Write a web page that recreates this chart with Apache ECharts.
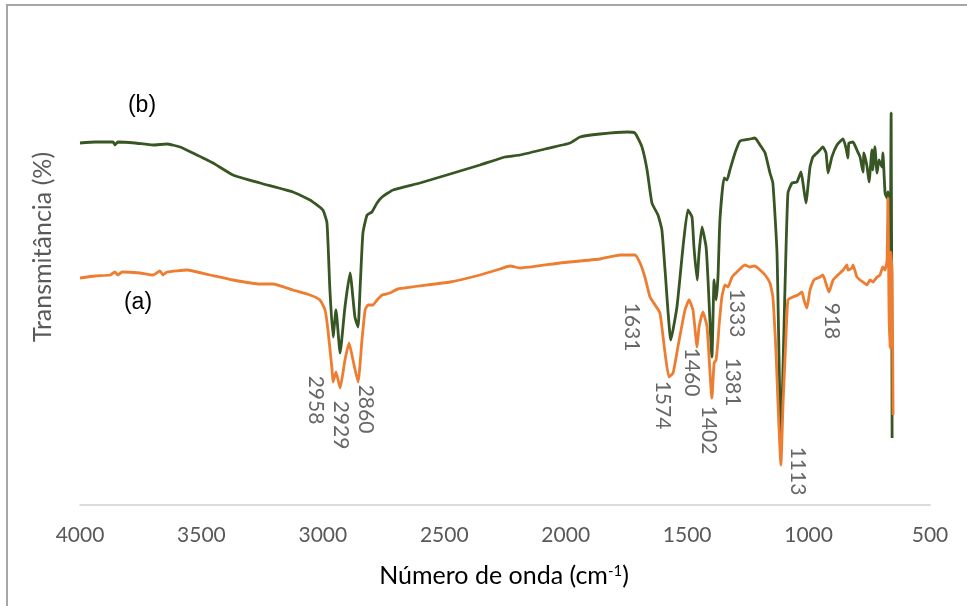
<!DOCTYPE html>
<html>
<head>
<meta charset="utf-8">
<script src="https://cdn.jsdelivr.net/npm/echarts@6/dist/echarts.min.js"></script>
<style>
  html, body { margin: 0; padding: 0; background: #fff; }
  #chart { width: 967px; height: 606px; }
</style>
</head>
<body>
<div id="chart"></div>
<script>
// eixo x: número de onda (cm-1), de 4000 a 500
const xTicks = [4000, 3500, 3000, 2500, 2000, 1500, 1000, 500]

// espectro (b) - [número de onda, transmitância relativa]
const spectrumB = [
  [4000, 90.5], [3938, 90.75], [3864, 90.75], [3856, 90], [3844, 90.75], [3774, 90.5],
  [3699, 90], [3642, 90.25], [3588, 89.5], [3535, 88], [3452, 85.5], [3370, 82.5],
  [3259, 80.5], [3123, 78.25], [3053, 76.25], [3041, 75.75], [3000, 73.75], [2983, 70.5],
  [2971, 53.75], [2958, 42], [2946, 48.75], [2929, 38], [2909, 49.5], [2888, 58],
  [2868, 47], [2855, 44.5], [2847, 53.75], [2835, 68], [2818, 72.5], [2798, 73.25],
  [2777, 75.5], [2756, 77], [2711, 78.75], [2600, 80.5], [2476, 82.75], [2353, 85],
  [2250, 87], [2188, 87.5], [2085, 89], [1982, 90.5], [1941, 92], [1859, 92.75],
  [1748, 93.25], [1715, 93], [1686, 89.5], [1665, 83.75], [1645, 75.5], [1620, 72.5],
  [1604, 68.75], [1591, 58.75], [1567, 41.25], [1542, 49.5], [1517, 64.5], [1497, 73.75],
  [1480, 72], [1472, 64.5], [1459, 56.25], [1451, 63], [1439, 69.5], [1422, 64.5],
  [1414, 56.25], [1398, 37], [1389, 56.25], [1381, 51.25], [1373, 57], [1365, 71.25],
  [1348, 81.75], [1336, 81.25], [1324, 83.75], [1303, 88], [1282, 91], [1241, 91.5],
  [1221, 91.75], [1200, 90], [1179, 88], [1159, 83], [1147, 80.5], [1130, 63],
  [1114, 16.25], [1097, 54.5], [1085, 78], [1068, 80.5], [1048, 80.75], [1031, 83.25],
  [1023, 80.5], [1011, 75.5], [994, 84.5], [982, 87], [961, 88.25], [941, 89.5],
  [928, 88], [920, 83], [904, 87], [883, 90], [858, 91.5], [846, 89.25],
  [838, 86.75], [834, 90.5], [817, 90.75], [801, 88.75], [788, 87], [776, 83.25],
  [772, 88], [759, 84.5], [751, 80.75], [739, 88.75], [735, 83.75], [727, 89.5],
  [718, 83], [710, 86.25], [698, 84.5], [694, 88], [685, 78], [677, 76.75],
  [673, 78.25], [669, 63.75], [665, 53], [660, 98], [656, 16.75]
]

// espectro (a)
const spectrumA = [
  [4000, 56.75], [3938, 57.25], [3876, 57.5], [3856, 58.25], [3844, 57.5], [3827, 58.25],
  [3753, 58], [3699, 57.5], [3671, 58.5], [3658, 57.5], [3642, 58.25], [3559, 58.75],
  [3465, 57.5], [3370, 56.25], [3259, 55.25], [3205, 55.25], [3123, 53.75], [3053, 52.5],
  [3012, 51.25], [2991, 48.75], [2979, 43.75], [2962, 33.75], [2958, 30.75], [2946, 33.25],
  [2929, 29.25], [2909, 36.25], [2892, 40.5], [2876, 36.25], [2855, 30.75], [2839, 41.25],
  [2826, 48.75], [2814, 50], [2794, 50], [2777, 51.25], [2756, 52.5], [2724, 53],
  [2691, 54], [2476, 55.75], [2353, 57.5], [2271, 59], [2229, 59.75], [2188, 59.25],
  [2024, 60.5], [1859, 61.5], [1776, 62.5], [1715, 62.5], [1694, 60.5], [1674, 57],
  [1653, 52], [1632, 50], [1612, 48], [1591, 38], [1575, 32], [1558, 33],
  [1538, 39.5], [1509, 48.75], [1492, 51.25], [1476, 48.75], [1459, 39.5], [1451, 44.5],
  [1435, 48.25], [1418, 44.5], [1398, 26.75], [1389, 35.5], [1381, 36.25], [1373, 41],
  [1369, 44.5], [1357, 52], [1344, 55], [1332, 54.5], [1315, 57], [1295, 58.25],
  [1262, 60], [1241, 59.5], [1221, 59.75], [1200, 58.75], [1179, 57.5], [1159, 55.5],
  [1147, 52], [1134, 38], [1126, 25.5], [1114, 10], [1105, 25.5], [1093, 42],
  [1085, 51.25], [1064, 52], [1044, 52.5], [1027, 53.25], [1019, 51.25], [1007, 49.25],
  [994, 53.75], [978, 56.25], [953, 57], [941, 57.5], [924, 54.5], [916, 53.25],
  [899, 56.25], [879, 57.5], [858, 58.75], [842, 60], [838, 58.75], [821, 59.25],
  [817, 60], [801, 57], [788, 56.25], [776, 55.75], [759, 55], [747, 56.25],
  [735, 55.75], [718, 57], [706, 57.5], [694, 59.5], [685, 58.75], [677, 61.25],
  [673, 76.75], [669, 49.5], [665, 39.25], [661, 63.25], [656, 58], [652, 22.5]
]

// rótulos dos picos
const peakLabels = ['2958', '2929', '2860', '1631', '1574', '1460', '1402', '1333', '1381', '1113', '918']
// onde cada rótulo fica (número de onda / nível)
const labelWave = [3028, 2925, 2822, 1727, 1599, 1480, 1410, 1295, 1311, 1044, 904]
const labelLevel = [26.25, 20, 24, 44.5, 25, 33.25, 18.75, 48, 30.75, 8.5, 46]

const chart = echarts.init(document.getElementById('chart'))

const font = 'Lato'
const textColor = '#595959'

const option = {
  animation: false,
  grid: { left: 80, right: 37, top: 25, bottom: 101 },
  xAxis: {
    type: 'value',
    inverse: true,
    min: Math.min(...xTicks),
    max: Math.max(...xTicks),
    interval: xTicks[0] - xTicks[1],
    axisLine: { lineStyle: { color: '#d0d0d0', width: 1.5 } },
    axisTick: { show: false },
    splitLine: { show: false },
    axisLabel: {
      color: textColor,
      fontSize: 21,
      fontFamily: font,
      margin: 20,
      formatter: (v) => String(v),
    },
  },
  yAxis: { type: 'value', min: 0, max: 120, show: false },
  series: [
    {
      name: '(b)',
      type: 'line',
      data: spectrumB,
      showSymbol: false,
      smooth: 0.15,
      lineStyle: { color: '#375623', width: 2.8 },
      z: 2,
    },
    {
      name: '(a)',
      type: 'line',
      data: spectrumA,
      showSymbol: false,
      smooth: 0.15,
      lineStyle: { color: '#ED7D31', width: 2.8 },
      z: 3,
    },
    {
      // rótulos rotacionados
      type: 'scatter',
      silent: true,
      symbolSize: 1,
      itemStyle: { color: 'transparent' },
      data: peakLabels.map((t, i) => ({ value: [labelWave[i], labelLevel[i]], name: t })),
      label: {
        show: true,
        position: 'inside',
        rotate: -90,
        formatter: (p) => p.name,
        color: '#404040',
        fontSize: 21,
        fontFamily: font,
      },
      z: 5,
    },
  ],
  graphic: [
    {
      type: 'rect',
      silent: true,
      shape: { x: 7, y: 5, width: 1200, height: 900 },
      style: { fill: 'none', stroke: '#a6a6a6', lineWidth: 2 },
    },
    {
      type: 'text',
      x: 142, y: 106,
      style: { text: '(b)', font: '23px "Liberation Sans"', fill: '#000', textAlign: 'center', textVerticalAlign: 'middle' },
    },
    {
      type: 'text',
      x: 138, y: 303,
      style: { text: '(a)', font: '23px "Liberation Sans"', fill: '#000', textAlign: 'center', textVerticalAlign: 'middle' },
    },
    {
      type: 'text',
      x: 43, y: 247,
      rotation: Math.PI / 2,
      style: { text: 'Transmitância (%)', font: '25px ' + font, fill: textColor, textAlign: 'center', textVerticalAlign: 'middle' },
    },
    {
      type: 'text',
      x: 504, y: 576,
      style: {
        text: '{n|Número de onda (cm}{s|-1}{n|)}',
        textAlign: 'center',
        textVerticalAlign: 'middle',
        rich: {
          n: { fontSize: 25, fontFamily: font, color: textColor },
          s: { fontSize: 15, fontFamily: font, color: textColor, verticalAlign: 'top' },
        },
      },
    },
  ],
}

chart.setOption(option)
window.addEventListener('resize', () => chart.resize())
</script>
</body>
</html>
